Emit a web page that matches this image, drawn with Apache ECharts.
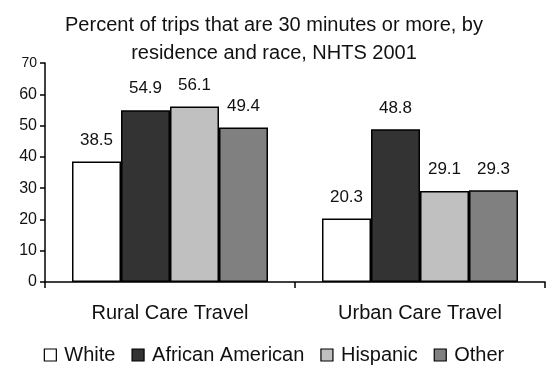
<!DOCTYPE html>
<html>
<head>
<meta charset="utf-8">
<script src="https://cdn.jsdelivr.net/npm/echarts@6/dist/echarts.min.js"></script>
<style>
  html, body { margin: 0; padding: 0; background: #fff; }
  #chart { width: 548px; height: 368px; }
</style>
</head>
<body>
<div id="chart"></div>
<script>
const categories = ['Rural Care Travel', 'Urban Care Travel'];
const seriesNames = ['White', 'African American', 'Hispanic', 'Other'];
const white = [38.5, 20.3];
const africanAmerican = [54.9, 48.8];
const hispanic = [56.1, 29.1];
const other = [49.4, 29.3];
const yTicks = [0, 10, 20, 30, 40, 50, 60, 70];

const FONT = '"Liberation Sans", Arial, sans-serif';
const colors = ['#ffffff', '#333333', '#c0c0c0', '#808080'];
const values = [white, africanAmerican, hispanic, other];

const chart = echarts.init(document.getElementById('chart'));

chart.setOption({
  animation: false,
  textStyle: { fontFamily: FONT, color: '#000' },
  title: {
    text: 'Percent of trips that are 30 minutes or more, by\nresidence and race, NHTS 2001',
    left: 'center',
    top: 6,
    textStyle: { fontFamily: FONT, fontSize: 20, fontWeight: 'normal', color: '#111', lineHeight: 28 },
  },
  legend: {
    top: 340,
    left: 'center',
    itemWidth: 12,
    itemHeight: 12,
    itemGap: 16,
    icon: 'rect',
    textStyle: { fontFamily: FONT, fontSize: 20, color: '#111', padding: [0, 0, 0, 3] },
    itemStyle: { borderColor: '#000', borderWidth: 1.2 },
    data: seriesNames,
  },
  grid: { left: 45, right: 3, top: 63, bottom: 86 },
  xAxis: {
    type: 'category',
    data: categories,
    axisLine: { lineStyle: { color: '#000', width: 1.5 } },
    axisTick: { show: true, alignWithLabel: false, length: 6, lineStyle: { color: '#000', width: 1.5 } },
    axisLabel: { fontFamily: FONT, fontSize: 20, color: '#111', margin: 21 },
  },
  yAxis: {
    type: 'value',
    min: 0,
    max: 70,
    interval: 10,
    axisLine: { show: true, lineStyle: { color: '#000', width: 1.5 } },
    axisTick: { show: true, length: 5, lineStyle: { color: '#000', width: 1.5 } },
    axisLabel: {
      fontFamily: FONT,
      fontSize: 16,
      color: '#111',
      margin: 8,
      formatter: (v) => (v === 70 ? '{s|70}' : yTicks.includes(v) ? String(v) : ''),
      rich: { s: { fontFamily: FONT, fontSize: 14, color: '#111' } },
    },
    splitLine: { show: false },
  },
  series: seriesNames.map((name, i) => ({
    name,
    type: 'bar',
    data: values[i],
    barGap: '0%',
    barCategoryGap: '21.6%',
    itemStyle: { color: colors[i], borderColor: '#000', borderWidth: 1.5 },
    label: {
      show: true,
      position: 'top',
      distance: 13,
      fontFamily: FONT,
      fontSize: 17,
      color: '#111',
      formatter: (p) => p.value.toFixed(1),
    },
  })),
});
</script>
</body>
</html>
